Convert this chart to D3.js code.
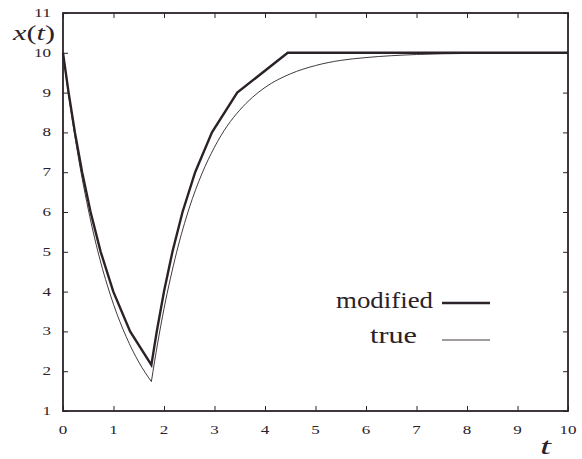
<!DOCTYPE html>
<html>
<head>
<meta charset="utf-8">
<script src="https://cdn.jsdelivr.net/npm/d3@7"></script>
<style>
  html, body { margin: 0; padding: 0; background: #fff; }
  svg { display: block; }
</style>
</head>
<body>
<svg id="chart" width="582" height="459"></svg>
<script>
// Level-crossing ("modified") solution: vertices at each integer level
const modT = [0, 0.111, 0.236, 0.379, 0.546, 0.746, 0.996, 1.329, 1.75,
              1.857, 2.000, 2.167, 2.367, 2.617, 2.950, 3.450, 4.450, 10];
const modX = [10, 9, 8, 7, 6, 5, 4, 3, 2.158,
              3, 4, 5, 6, 7, 8, 9, 10, 10];

// Exact solution, decay phase
const trueFallT = [0, 0.125, 0.25, 0.375, 0.5, 0.625, 0.75, 0.875, 1.0,
                   1.125, 1.25, 1.375, 1.5, 1.625, 1.75];
const trueFallX = [10, 8.82, 7.79, 6.87, 6.07, 5.35, 4.72, 4.17, 3.68,
                   3.25, 2.87, 2.53, 2.23, 1.97, 1.74];

// Exact solution, recovery phase
const trueRiseT = [1.75, 1.875, 2.0, 2.125, 2.25, 2.5, 2.75, 3.0, 3.25, 3.5,
                   3.75, 4.0, 4.5, 5.0, 5.5, 6.0, 7.0, 8.0, 9.0, 10];
const trueRiseX = [1.74, 2.71, 3.57, 4.32, 4.99, 6.10, 6.96, 7.63, 8.16, 8.56,
                   8.88, 9.13, 9.47, 9.68, 9.81, 9.88, 9.957, 9.984, 9.994, 9.998];

const xTicks = [0, 1, 2, 3, 4, 5, 6, 7, 8, 9, 10];
const yTicks = [1, 2, 3, 4, 5, 6, 7, 8, 9, 10, 11];

const legendLabels = ["modified", "true"];

const ink = "#2b2229";
const svg = d3.select("#chart");

const x = d3.scaleLinear().domain([0, 10]).range([63, 568]);
const y = d3.scaleLinear().domain([1, 11]).range([411, 13]);

const zip = (ts, xs) => ts.map((t, i) => [t, xs[i]]);

// Serif text, widened to a given length
function label(parent, px, py, size, len, anchor) {
  const t = parent.append("text")
    .attr("x", px).attr("y", py)
    .attr("font-family", "serif").attr("font-size", size)
    .attr("text-anchor", anchor || "start")
    .attr("fill", ink);
  if (len) t.attr("textLength", len).attr("lengthAdjust", "spacingAndGlyphs");
  return t;
}

// Axes with inward ticks on all four sides (labels drawn separately)
function styleAxis(g) {
  g.select(".domain").remove();
  g.selectAll(".tick text").remove();
  g.selectAll(".tick line").attr("stroke", ink).attr("stroke-width", 1);
}

svg.append("g").attr("transform", `translate(0,${y(1)})`)
  .call(d3.axisBottom(x).tickValues(xTicks).tickSize(-5)).call(styleAxis);
svg.append("g").attr("transform", `translate(0,${y(11)})`)
  .call(d3.axisTop(x).tickValues(xTicks).tickSize(-5)).call(styleAxis);
svg.append("g").attr("transform", `translate(${x(0)},0)`)
  .call(d3.axisLeft(y).tickValues(yTicks).tickSize(-5)).call(styleAxis);
svg.append("g").attr("transform", `translate(${x(10)},0)`)
  .call(d3.axisRight(y).tickValues(yTicks).tickSize(-5)).call(styleAxis);

// Tick labels
const tickLabels = svg.append("g");
xTicks.forEach(v => {
  const w = String(v).length * 8.5;
  label(tickLabels, x(v) - w / 2, y(1) + 23, 12, w).text(v);
});
yTicks.forEach(v => {
  const w = String(v).length * 8.5;
  label(tickLabels, x(0) - 12 - w, y(v) + 4, 12, w).text(v);
});

// Frame
svg.append("rect")
  .attr("x", x(0)).attr("y", y(11))
  .attr("width", x(10) - x(0)).attr("height", y(1) - y(11))
  .attr("fill", "none").attr("stroke", ink).attr("stroke-width", 1.8);

// Curves
const lineLin = d3.line().x(d => x(d[0])).y(d => y(d[1]));
const lineSmooth = d3.line().x(d => x(d[0])).y(d => y(d[1])).curve(d3.curveMonotoneX);

const plot = svg.append("g");
plot.append("path").datum(zip(trueFallT, trueFallX))
  .attr("d", lineSmooth).attr("fill", "none").attr("stroke", ink).attr("stroke-width", 0.9);
plot.append("path").datum(zip(trueRiseT, trueRiseX))
  .attr("d", lineSmooth).attr("fill", "none").attr("stroke", ink).attr("stroke-width", 0.9);
plot.append("path").datum(zip(modT, modX))
  .attr("d", lineLin).attr("fill", "none").attr("stroke", ink).attr("stroke-width", 2.4)
  .attr("stroke-linejoin", "miter");

// Legend
const legend = svg.append("g");
const legendRows = [
  { label: legendLabels[0], textEnd: 433, baseline: 308, lineY: 303, width: 2.4, textW: 97 },
  { label: legendLabels[1], textEnd: 417, baseline: 343, lineY: 340, width: 0.9, textW: 47 }
];
legendRows.forEach(r => {
  label(legend, r.textEnd - r.textW, r.baseline, 24, r.textW).text(r.label);
  legend.append("line")
    .attr("x1", 442).attr("x2", 490).attr("y1", r.lineY).attr("y2", r.lineY)
    .attr("stroke", ink).attr("stroke-width", r.width);
});

// Axis titles
const yTitle = label(svg, 13, 40, 22, 42);
yTitle.append("tspan").attr("font-style", "italic").text("x");
yTitle.append("tspan").text("(");
yTitle.append("tspan").attr("font-style", "italic").text("t");
yTitle.append("tspan").text(")");

label(svg, 540, 454, 24, 11).attr("font-style", "italic").text("t");
</script>
</body>
</html>
